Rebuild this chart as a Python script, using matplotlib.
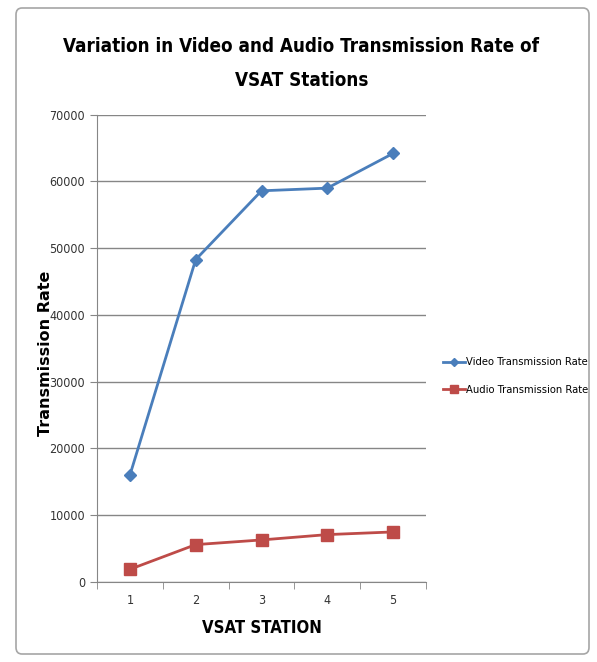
import numpy as np
import matplotlib.pyplot as plt
from matplotlib.patches import FancyBboxPatch

# data
stations = [1, 2, 3, 4, 5]
video_rate = [16000, 48300, 58600, 59000, 64200]
audio_rate = [1900, 5600, 6300, 7100, 7500]

plt.rcParams['font.family'] = ['DejaVu Sans']
plt.rcParams['font.stretch'] = 'condensed'

W, H = 597, 662
fig = plt.figure(figsize=(W / 100, H / 100), dpi=100)
fig.patch.set_facecolor('white')

# outer chart frame
frame = FancyBboxPatch((16 / W, 8 / H), 573 / W, 646 / H,
                       boxstyle='round,pad=0,rounding_size=0.01',
                       transform=fig.transFigure, facecolor='none',
                       edgecolor='#a6a6a6', linewidth=1.2, zorder=-1)
fig.patches.append(frame)

ax = fig.add_axes([97 / W, (H - 582) / H, (426 - 97) / W, (582 - 114.7) / H])
ax.patch.set_alpha(0)

ax.plot(stations, video_rate, color='#4a7ebb', marker='D', markersize=6.5,
        linewidth=2, label='Video Transmission Rate')
ax.plot(stations, audio_rate, color='#be4b48', marker='s', markersize=8.5,
        linewidth=2, label='Audio Transmission Rate')

ax.set_xlim(0.5, 5.5)
ax.set_ylim(0, 70000)
ax.set_yticks(np.arange(0, 70001, 10000))
ax.set_xticks(stations)
ax.set_xticks(np.arange(0.5, 5.6, 1), minor=True)
ax.tick_params(axis='x', which='major', length=0, labelsize=9, pad=9, colors='#333333')
ax.tick_params(axis='x', which='minor', length=5, color='#868686')
ax.tick_params(axis='y', length=5, labelsize=9, color='#868686', labelcolor='#333333')
ax.grid(axis='y', color='#868686', linewidth=1)
ax.set_axisbelow(True)
for s in ['top', 'right']:
    ax.spines[s].set_visible(False)
for s in ['left', 'bottom']:
    ax.spines[s].set_color('#868686')

ax.set_xlabel('VSAT STATION', fontsize=12, fontweight='bold', labelpad=8)
ax.set_ylabel('Transmission Rate', fontsize=11.5, fontweight='bold',
              fontstretch='normal')
ax.yaxis.set_label_coords(-0.135, 0.49)

fig.text(0.505, (H - 47) / H, 'Variation in Video and Audio Transmission Rate of',
         ha='center', va='center', fontsize=13.5, fontweight='bold')
fig.text(0.505, (H - 81) / H, 'VSAT Stations',
         ha='center', va='center', fontsize=13.5, fontweight='bold')

ax.legend(loc='center left', bbox_to_anchor=(1.02, 0.44), frameon=False,
          fontsize=8, handlelength=2, handletextpad=0.1, labelspacing=1.6,
          markerscale=0.7, borderaxespad=0.5)

fig.savefig('out.png', dpi=100)
